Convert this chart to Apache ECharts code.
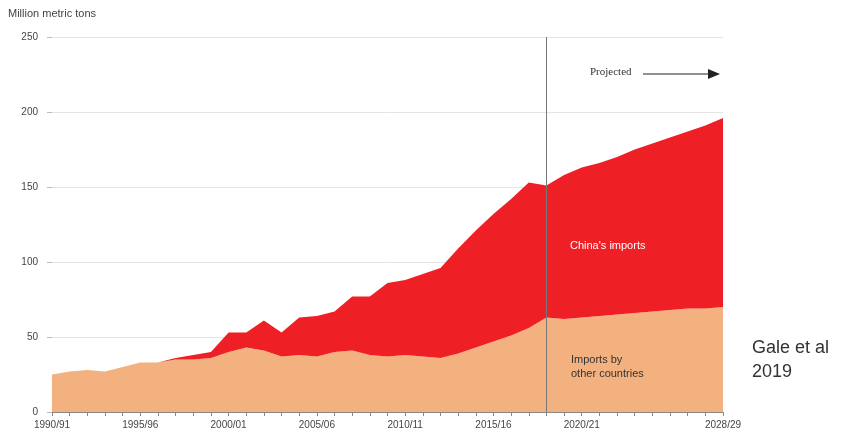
<!DOCTYPE html>
<html>
<head>
<meta charset="utf-8">
<script src="https://cdn.jsdelivr.net/npm/echarts@6/dist/echarts.min.js"></script>
<style>
  html, body { margin: 0; padding: 0; background: #fff; }
  #chart { width: 858px; height: 443px; }
</style>
</head>
<body>
<div id="chart"></div>
<script>
const years = [
  '1990/91', '1991/92', '1992/93', '1993/94', '1994/95', '1995/96', '1996/97', '1997/98',
  '1998/99', '1999/00', '2000/01', '2001/02', '2002/03', '2003/04', '2004/05', '2005/06',
  '2006/07', '2007/08', '2008/09', '2009/10', '2010/11', '2011/12', '2012/13', '2013/14',
  '2014/15', '2015/16', '2016/17', '2017/18', '2018/19', '2019/20', '2020/21', '2021/22',
  '2022/23', '2023/24', '2024/25', '2025/26', '2026/27', '2027/28', '2028/29'
];
// imports by other countries (million metric tons)
const otherImports = [
  25, 27, 28, 27, 30, 33, 33, 35, 35, 36, 40, 43, 41, 37, 38, 37,
  40, 41, 38, 37, 38, 37, 36, 39, 43, 47, 51, 56, 63, 62, 63, 64,
  65, 66, 67, 68, 69, 69, 70
];
// total world imports (top of the stack)
const totalImports = [
  25, 27, 28, 27, 30, 33, 33, 36, 38, 40, 53, 53, 61, 53, 63, 64,
  67, 77, 77, 86, 88, 92, 96, 109, 121, 132, 142, 153, 151, 158, 163, 166,
  170, 175, 179, 183, 187, 191, 196
];
const chinaImports = totalImports.map((t, i) => t - otherImports[i]);
const labelIdx = [0, 5, 10, 15, 20, 25, 30, 38];

const myChart = echarts.init(document.getElementById('chart'));
const option = {
  animation: false,
  textStyle: { fontFamily: 'Liberation Sans, Arial, sans-serif' },
  grid: { left: 52, right: 135, top: 37, bottom: 31 },
  xAxis: {
    type: 'category',
    data: years,
    boundaryGap: false,
    axisLine: { lineStyle: { color: '#888', width: 1 } },
    axisTick: { interval: 0, length: 4, lineStyle: { color: '#888' } },
    axisLabel: {
      interval: (i) => labelIdx.includes(i),
      color: '#444',
      fontSize: 10,
      margin: 8
    }
  },
  yAxis: {
    type: 'value',
    min: 0,
    max: 250,
    interval: 50,
    axisLine: { show: false },
    axisTick: { show: true, length: 5, lineStyle: { color: '#bbb' } },
    axisLabel: { color: '#444', fontSize: 10, margin: 14 },
    splitLine: { lineStyle: { color: '#e4e4e4', width: 1 } }
  },
  series: [
    {
      name: 'Imports by other countries',
      type: 'line',
      stack: 'total',
      data: otherImports,
      symbol: 'none',
      lineStyle: { width: 0 },
      areaStyle: { color: '#F3B17F', opacity: 1 },
      z: 2
    },
    {
      name: "China's imports",
      type: 'line',
      stack: 'total',
      data: chinaImports,
      symbol: 'none',
      lineStyle: { width: 0 },
      areaStyle: { color: '#EE1F25', opacity: 1 },
      markLine: {
        silent: true,
        symbol: 'none',
        label: { show: false },
        lineStyle: { color: '#777', width: 1, type: 'solid' },
        data: [{ xAxis: '2018/19' }]
      },
      z: 3
    }
  ],
  graphic: {
    elements: [
      {
        type: 'text', left: 8, top: 8, z: 100,
        style: { text: 'Million metric tons', fill: '#444', fontSize: 11, fontFamily: 'Liberation Sans' }
      },
      {
        type: 'text', left: 590, top: 67, z: 100,
        style: { text: 'Projected', fill: '#333', fontSize: 11, fontFamily: 'Liberation Serif' }
      },
      {
        type: 'line', z: 100,
        shape: { x1: 643, y1: 74, x2: 710, y2: 74 },
        style: { stroke: '#222', lineWidth: 1 }
      },
      {
        type: 'polygon', z: 100,
        shape: { points: [[708, 69], [720, 74], [708, 79]] },
        style: { fill: '#222' }
      },
      {
        type: 'text', left: 570, top: 240, z: 100,
        style: { text: "China's imports", fill: '#fff', fontSize: 11, fontFamily: 'Liberation Sans' }
      },
      {
        type: 'text', left: 571, top: 353, z: 100,
        style: { text: 'Imports by\nother countries', fill: '#333', fontSize: 11, lineHeight: 14, fontFamily: 'Liberation Sans' }
      },
      {
        type: 'text', left: 752, top: 336, z: 100,
        style: { text: 'Gale et al\n2019', fill: '#333', fontSize: 18, lineHeight: 24, fontFamily: 'Liberation Sans' }
      }
    ]
  }
};
myChart.setOption(option);
</script>
</body>
</html>
